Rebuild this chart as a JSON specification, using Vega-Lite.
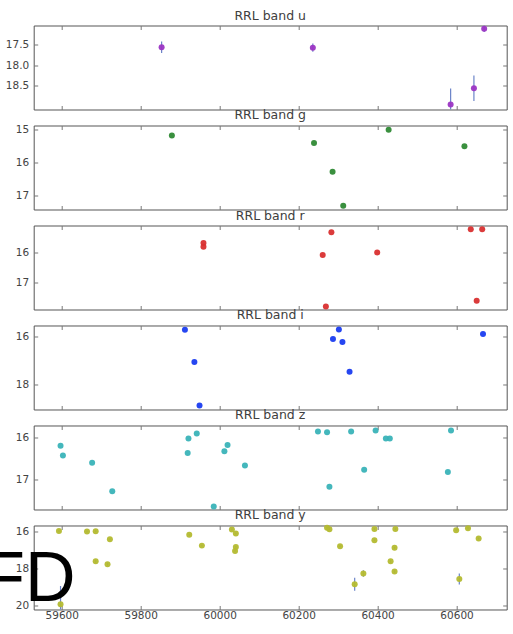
{
  "$schema": "https://vega.github.io/schema/vega-lite/v6.json",
  "padding": {"left": -18.3, "top": 8.5, "right": 0, "bottom": 0},
  "spacing": -2,
  "datasets": {
    "obs": [
      {"band": "u", "mjd": 59853, "mag": 17.56, "err": 0.14},
      {"band": "u", "mjd": 60236, "mag": 17.57, "err": 0.1},
      {"band": "u", "mjd": 60585, "mag": 18.96, "err": 0.39},
      {"band": "u", "mjd": 60644, "mag": 18.56, "err": 0.31},
      {"band": "u", "mjd": 60670, "mag": 17.11, "err": 0.08},
      {"band": "g", "mjd": 59879, "mag": 15.17},
      {"band": "g", "mjd": 60239, "mag": 15.4},
      {"band": "g", "mjd": 60286, "mag": 16.27},
      {"band": "g", "mjd": 60313, "mag": 17.3},
      {"band": "g", "mjd": 60428, "mag": 15.0},
      {"band": "g", "mjd": 60620, "mag": 15.5},
      {"band": "r", "mjd": 59959, "mag": 15.69},
      {"band": "r", "mjd": 59959, "mag": 15.81},
      {"band": "r", "mjd": 60261, "mag": 16.08},
      {"band": "r", "mjd": 60283, "mag": 15.33},
      {"band": "r", "mjd": 60269, "mag": 17.78},
      {"band": "r", "mjd": 60399, "mag": 16.0},
      {"band": "r", "mjd": 60636, "mag": 15.23},
      {"band": "r", "mjd": 60665, "mag": 15.23},
      {"band": "r", "mjd": 60651, "mag": 17.59},
      {"band": "i", "mjd": 59912, "mag": 15.73},
      {"band": "i", "mjd": 59936, "mag": 17.08},
      {"band": "i", "mjd": 59949, "mag": 18.89},
      {"band": "i", "mjd": 60287, "mag": 16.11},
      {"band": "i", "mjd": 60302, "mag": 15.72},
      {"band": "i", "mjd": 60311, "mag": 16.24},
      {"band": "i", "mjd": 60329, "mag": 17.48},
      {"band": "i", "mjd": 60667, "mag": 15.9},
      {"band": "z", "mjd": 59597, "mag": 16.2},
      {"band": "z", "mjd": 59603, "mag": 16.43},
      {"band": "z", "mjd": 59677, "mag": 16.6},
      {"band": "z", "mjd": 59728, "mag": 17.28},
      {"band": "z", "mjd": 59921, "mag": 16.03},
      {"band": "z", "mjd": 59919, "mag": 16.37},
      {"band": "z", "mjd": 59942, "mag": 15.91},
      {"band": "z", "mjd": 59985, "mag": 17.64},
      {"band": "z", "mjd": 60012, "mag": 16.33},
      {"band": "z", "mjd": 60020, "mag": 16.18},
      {"band": "z", "mjd": 60064, "mag": 16.67},
      {"band": "z", "mjd": 60249, "mag": 15.86},
      {"band": "z", "mjd": 60272, "mag": 15.88},
      {"band": "z", "mjd": 60278, "mag": 17.17},
      {"band": "z", "mjd": 60333, "mag": 15.86},
      {"band": "z", "mjd": 60366, "mag": 16.77},
      {"band": "z", "mjd": 60395, "mag": 15.84},
      {"band": "z", "mjd": 60421, "mag": 16.03},
      {"band": "z", "mjd": 60431, "mag": 16.03},
      {"band": "z", "mjd": 60578, "mag": 16.82},
      {"band": "z", "mjd": 60586, "mag": 15.84},
      {"band": "y", "mjd": 59593, "mag": 15.95, "err": 0.05},
      {"band": "y", "mjd": 59597, "mag": 19.95, "err": 1.0},
      {"band": "y", "mjd": 59664, "mag": 15.98, "err": 0.05},
      {"band": "y", "mjd": 59686, "mag": 15.96, "err": 0.05},
      {"band": "y", "mjd": 59686, "mag": 17.6, "err": 0.08},
      {"band": "y", "mjd": 59722, "mag": 16.4, "err": 0.05},
      {"band": "y", "mjd": 59716, "mag": 17.77, "err": 0.08},
      {"band": "y", "mjd": 59923, "mag": 16.16, "err": 0.05},
      {"band": "y", "mjd": 59955, "mag": 16.75, "err": 0.05},
      {"band": "y", "mjd": 60031, "mag": 15.87, "err": 0.05},
      {"band": "y", "mjd": 60041, "mag": 16.09, "err": 0.05},
      {"band": "y", "mjd": 60041, "mag": 16.82, "err": 0.05},
      {"band": "y", "mjd": 60039, "mag": 17.04, "err": 0.05},
      {"band": "y", "mjd": 60272, "mag": 15.78, "err": 0.05},
      {"band": "y", "mjd": 60278, "mag": 15.85, "err": 0.05},
      {"band": "y", "mjd": 60305, "mag": 16.78, "err": 0.05},
      {"band": "y", "mjd": 60342, "mag": 18.86, "err": 0.35},
      {"band": "y", "mjd": 60364, "mag": 18.27, "err": 0.18},
      {"band": "y", "mjd": 60392, "mag": 15.84, "err": 0.05},
      {"band": "y", "mjd": 60392, "mag": 16.45, "err": 0.05},
      {"band": "y", "mjd": 60445, "mag": 15.84, "err": 0.05},
      {"band": "y", "mjd": 60443, "mag": 16.87, "err": 0.05},
      {"band": "y", "mjd": 60433, "mag": 17.6, "err": 0.08},
      {"band": "y", "mjd": 60443, "mag": 18.17, "err": 0.08},
      {"band": "y", "mjd": 60599, "mag": 15.91, "err": 0.05},
      {"band": "y", "mjd": 60629, "mag": 15.8, "err": 0.05},
      {"band": "y", "mjd": 60656, "mag": 16.36, "err": 0.05},
      {"band": "y", "mjd": 60607, "mag": 18.58, "err": 0.3}
    ],
    "note": [
      {"label": "FD", "mjd": 59635, "mag": 19.75}
    ]
  },
  "vconcat": [
    {
      "title": "RRL band u",
      "width": 473, "height": 84,
      "data": {"name": "obs"},
      "transform": [{"filter": "datum.band === 'u'"}],
      "layer": [
        {"mark": {"type": "errorbar", "ticks": false, "color": "#6b84c8", "thickness": 1.2, "clip": true},
         "encoding": {
           "x": {"field": "mjd", "type": "quantitative", "scale": {"domain": [59529, 60727], "nice": false, "zero": false}, "axis": null},
           "y": {"field": "mag", "type": "quantitative", "scale": {"domain": [17.03, 19.08], "reverse": true, "nice": false, "zero": false}, "axis": null},
           "yError": {"field": "err"}}},
        {"mark": {"type": "point", "filled": true, "size": 36, "color": "#9b35c4", "opacity": 0.95},
         "encoding": {
           "x": {"field": "mjd", "type": "quantitative", "scale": {"domain": [59529, 60727], "nice": false, "zero": false}, "axis": {"orient": "bottom", "values": [59600, 59800, 60000, 60200, 60400, 60600], "labels": false, "title": null}},
           "y": {"field": "mag", "type": "quantitative", "scale": {"domain": [17.03, 19.08], "reverse": true, "nice": false, "zero": false}, "axis": {"orient": "left", "values": [17.5, 18.0, 18.5], "format": ".1f", "title": null}}}},
        {"mark": {"type": "point", "opacity": 0},
         "encoding": {
           "x": {"field": "mjd", "type": "quantitative", "scale": {"domain": [59529, 60727], "nice": false, "zero": false}, "axis": {"orient": "top", "values": [59600, 59800, 60000, 60200, 60400, 60600], "labels": false, "title": null}},
           "y": {"field": "mag", "type": "quantitative", "scale": {"domain": [17.03, 19.08], "reverse": true, "nice": false, "zero": false}, "axis": {"orient": "right", "values": [17.5, 18.0, 18.5], "labels": false, "title": null}}}}
      ]
    },
    {
      "title": "RRL band g",
      "width": 473, "height": 84,
      "data": {"name": "obs"},
      "transform": [{"filter": "datum.band === 'g'"}],
      "layer": [
        {"mark": {"type": "point", "filled": true, "size": 36, "color": "#2f8a35", "opacity": 0.95},
         "encoding": {
           "x": {"field": "mjd", "type": "quantitative", "scale": {"domain": [59529, 60727], "nice": false, "zero": false}, "axis": {"orient": "bottom", "values": [59600, 59800, 60000, 60200, 60400, 60600], "labels": false, "title": null}},
           "y": {"field": "mag", "type": "quantitative", "scale": {"domain": [14.87, 17.41], "reverse": true, "nice": false, "zero": false}, "axis": {"orient": "left", "values": [15, 16, 17], "title": null}}}},
        {"mark": {"type": "point", "opacity": 0},
         "encoding": {
           "x": {"field": "mjd", "type": "quantitative", "scale": {"domain": [59529, 60727], "nice": false, "zero": false}, "axis": {"orient": "top", "values": [59600, 59800, 60000, 60200, 60400, 60600], "labels": false, "title": null}},
           "y": {"field": "mag", "type": "quantitative", "scale": {"domain": [14.87, 17.41], "reverse": true, "nice": false, "zero": false}, "axis": {"orient": "right", "values": [15, 16, 17], "labels": false, "title": null}}}}
      ]
    },
    {
      "title": "RRL band r",
      "width": 473, "height": 84,
      "data": {"name": "obs"},
      "transform": [{"filter": "datum.band === 'r'"}],
      "layer": [
        {"mark": {"type": "point", "filled": true, "size": 36, "color": "#d93030", "opacity": 0.95},
         "encoding": {
           "x": {"field": "mjd", "type": "quantitative", "scale": {"domain": [59529, 60727], "nice": false, "zero": false}, "axis": {"orient": "bottom", "values": [59600, 59800, 60000, 60200, 60400, 60600], "labels": false, "title": null}},
           "y": {"field": "mag", "type": "quantitative", "scale": {"domain": [15.11, 17.88], "reverse": true, "nice": false, "zero": false}, "axis": {"orient": "left", "values": [16, 17], "title": null}}}},
        {"mark": {"type": "point", "opacity": 0},
         "encoding": {
           "x": {"field": "mjd", "type": "quantitative", "scale": {"domain": [59529, 60727], "nice": false, "zero": false}, "axis": {"orient": "top", "values": [59600, 59800, 60000, 60200, 60400, 60600], "labels": false, "title": null}},
           "y": {"field": "mag", "type": "quantitative", "scale": {"domain": [15.11, 17.88], "reverse": true, "nice": false, "zero": false}, "axis": {"orient": "right", "values": [16, 17], "labels": false, "title": null}}}}
      ]
    },
    {
      "title": "RRL band i",
      "width": 473, "height": 84,
      "data": {"name": "obs"},
      "transform": [{"filter": "datum.band === 'i'"}],
      "layer": [
        {"mark": {"type": "point", "filled": true, "size": 36, "color": "#1a3cf0", "opacity": 0.95},
         "encoding": {
           "x": {"field": "mjd", "type": "quantitative", "scale": {"domain": [59529, 60727], "nice": false, "zero": false}, "axis": {"orient": "bottom", "values": [59600, 59800, 60000, 60200, 60400, 60600], "labels": false, "title": null}},
           "y": {"field": "mag", "type": "quantitative", "scale": {"domain": [15.55, 19.06], "reverse": true, "nice": false, "zero": false}, "axis": {"orient": "left", "values": [16, 18], "title": null}}}},
        {"mark": {"type": "point", "opacity": 0},
         "encoding": {
           "x": {"field": "mjd", "type": "quantitative", "scale": {"domain": [59529, 60727], "nice": false, "zero": false}, "axis": {"orient": "top", "values": [59600, 59800, 60000, 60200, 60400, 60600], "labels": false, "title": null}},
           "y": {"field": "mag", "type": "quantitative", "scale": {"domain": [15.55, 19.06], "reverse": true, "nice": false, "zero": false}, "axis": {"orient": "right", "values": [16, 18], "labels": false, "title": null}}}}
      ]
    },
    {
      "title": "RRL band z",
      "width": 473, "height": 84,
      "data": {"name": "obs"},
      "transform": [{"filter": "datum.band === 'z'"}],
      "layer": [
        {"mark": {"type": "point", "filled": true, "size": 36, "color": "#3ab3b8", "opacity": 0.95},
         "encoding": {
           "x": {"field": "mjd", "type": "quantitative", "scale": {"domain": [59529, 60727], "nice": false, "zero": false}, "axis": {"orient": "bottom", "values": [59600, 59800, 60000, 60200, 60400, 60600], "labels": false, "title": null}},
           "y": {"field": "mag", "type": "quantitative", "scale": {"domain": [15.72, 17.71], "reverse": true, "nice": false, "zero": false}, "axis": {"orient": "left", "values": [16, 17], "title": null}}}},
        {"mark": {"type": "point", "opacity": 0},
         "encoding": {
           "x": {"field": "mjd", "type": "quantitative", "scale": {"domain": [59529, 60727], "nice": false, "zero": false}, "axis": {"orient": "top", "values": [59600, 59800, 60000, 60200, 60400, 60600], "labels": false, "title": null}},
           "y": {"field": "mag", "type": "quantitative", "scale": {"domain": [15.72, 17.71], "reverse": true, "nice": false, "zero": false}, "axis": {"orient": "right", "values": [16, 17], "labels": false, "title": null}}}}
      ]
    },
    {
      "title": "RRL band y",
      "width": 473, "height": 84,
      "layer": [
        {"data": {"name": "obs"},
         "transform": [{"filter": "datum.band === 'y'"}],
         "mark": {"type": "errorbar", "ticks": false, "color": "#6b84c8", "thickness": 1.2, "clip": true},
         "encoding": {
           "x": {"field": "mjd", "type": "quantitative", "scale": {"domain": [59529, 60727], "nice": false, "zero": false}, "axis": null},
           "y": {"field": "mag", "type": "quantitative", "scale": {"domain": [15.65, 20.24], "reverse": true, "nice": false, "zero": false}, "axis": null},
           "yError": {"field": "err"}}},
        {"data": {"name": "obs"},
         "transform": [{"filter": "datum.band === 'y'"}],
         "mark": {"type": "point", "filled": true, "size": 36, "color": "#b4bb30", "opacity": 0.95},
         "encoding": {
           "x": {"field": "mjd", "type": "quantitative", "scale": {"domain": [59529, 60727], "nice": false, "zero": false}, "axis": {"orient": "bottom", "values": [59600, 59800, 60000, 60200, 60400, 60600], "format": "d", "title": null}},
           "y": {"field": "mag", "type": "quantitative", "scale": {"domain": [15.65, 20.24], "reverse": true, "nice": false, "zero": false}, "axis": {"orient": "left", "values": [16, 18, 20], "title": null}}}},
        {"data": {"name": "obs"},
         "transform": [{"filter": "datum.band === 'y'"}],
         "mark": {"type": "point", "opacity": 0},
         "encoding": {
           "x": {"field": "mjd", "type": "quantitative", "scale": {"domain": [59529, 60727], "nice": false, "zero": false}, "axis": {"orient": "top", "values": [59600, 59800, 60000, 60200, 60400, 60600], "labels": false, "title": null}},
           "y": {"field": "mag", "type": "quantitative", "scale": {"domain": [15.65, 20.24], "reverse": true, "nice": false, "zero": false}, "axis": {"orient": "right", "values": [16, 18, 20], "labels": false, "title": null}}}},
        {"data": {"name": "note"},
         "mark": {"type": "text", "font": "Liberation Sans", "fontSize": 70, "color": "#000000", "align": "right", "baseline": "alphabetic"},
         "encoding": {
           "x": {"field": "mjd", "type": "quantitative", "scale": {"domain": [59529, 60727], "nice": false, "zero": false}, "axis": null},
           "y": {"field": "mag", "type": "quantitative", "scale": {"domain": [15.65, 20.24], "reverse": true, "nice": false, "zero": false}, "axis": null},
           "text": {"field": "label"}}}
      ]
    }
  ],
  "config": {
    "font": "DejaVu Sans",
    "view": {"stroke": "#555555", "strokeWidth": 1},
    "axis": {"grid": false, "domain": false, "tickSize": -4, "tickColor": "#777777", "tickWidth": 1, "labelFont": "DejaVu Sans", "labelFontSize": 10.5, "labelColor": "#444444", "labelPadding": 9},
    "axisX": {"labelPadding": 5},
    "title": {"font": "DejaVu Sans", "fontSize": 12.5, "fontWeight": "normal", "color": "#404040", "offset": 3, "anchor": "middle"}
  }
}
